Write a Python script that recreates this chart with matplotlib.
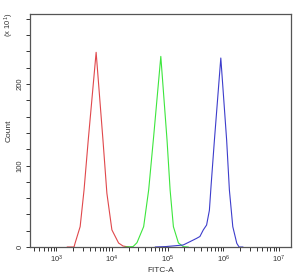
import matplotlib
matplotlib.use("Agg")
import matplotlib.pyplot as plt
from matplotlib.ticker import MultipleLocator, LogLocator, NullFormatter
import numpy as np

plt.rcParams['font.family'] = ['Liberation Sans', 'DejaVu Sans']
plt.rcParams['mathtext.fontset'] = 'custom'
plt.rcParams['mathtext.rm'] = 'Liberation Sans'
plt.rcParams['mathtext.it'] = 'Liberation Sans:italic'
plt.rcParams['mathtext.bf'] = 'Liberation Sans:bold'

# histogram outlines, log10(FITC-A) vs count (x10)
red_log = [3.20, 3.32, 3.34, 3.43, 3.50, 3.575, 3.717, 3.84, 3.91, 4.00, 4.12, 4.20, 4.30]
red_cnt = [0, 0, 4.9, 25, 70, 131, 239, 131, 66, 21, 4.9, 1.2, 0]

green_log = [4.24, 4.38, 4.45, 4.57, 4.66, 4.75, 4.878, 4.99, 5.045, 5.104, 5.194, 5.283, 5.37]
green_cnt = [0, 0.5, 5.3, 25, 70, 136, 234, 131, 70, 25, 5, 0.4, 0]

blue_log = [4.78, 4.96, 5.13, 5.28, 5.40, 5.52, 5.58, 5.64, 5.70, 5.75, 5.78, 5.84, 5.955, 6.06, 6.109, 6.17, 6.242, 6.283, 6.35]
blue_cnt = [0, 0.5, 1.5, 2.5, 6.5, 10.6, 12.9, 20.9, 27, 45, 75, 131, 232, 131, 70, 25, 4.5, 0, 0]

fig = plt.figure(figsize=(2.98, 2.75), dpi=100)
ax = fig.add_axes([0.1007, 0.1018, 0.8758, 0.8472])

ax.plot(10 ** np.array(red_log), red_cnt, color='#e0484c', lw=0.8)
ax.plot(10 ** np.array(green_log), green_cnt, color='#3de63d', lw=0.8)
ax.plot(10 ** np.array(blue_log), blue_cnt, color='#3d3dcc', lw=0.8)

ax.set_xscale('log')
ax.set_xlim(10 ** 2.53, 10 ** 7.215)
ax.set_ylim(0, 286)

ax.xaxis.set_major_locator(LogLocator(base=10, numticks=10))
ax.xaxis.set_minor_locator(LogLocator(base=10, subs=np.arange(2, 10), numticks=20))
ax.xaxis.set_minor_formatter(NullFormatter())
ax.yaxis.set_major_locator(MultipleLocator(100))
ax.yaxis.set_minor_locator(MultipleLocator(20))

for s in ax.spines.values():
    s.set_color('#555555')
    s.set_linewidth(0.9)

ax.tick_params(which='both', direction='out', color='#333333', width=0.7,
               labelsize=5.5, labelcolor='#333333', pad=1.5)
ax.tick_params(which='major', length=3)
ax.tick_params(which='minor', length=2.6)
for lbl in ax.get_yticklabels():
    lbl.set_rotation(90)
    lbl.set_va('center')

ax.set_xlabel('FITC-A', fontsize=6, color='#333333', labelpad=2)
ax.set_ylabel('Count', fontsize=6, color='#333333', labelpad=3)
fig.text(0.032, 0.909, '(x 10$^{1}$)', rotation=90, fontsize=5.5, color='#333333',
         ha='center', va='center')

fig.savefig('out.png', dpi=100)
